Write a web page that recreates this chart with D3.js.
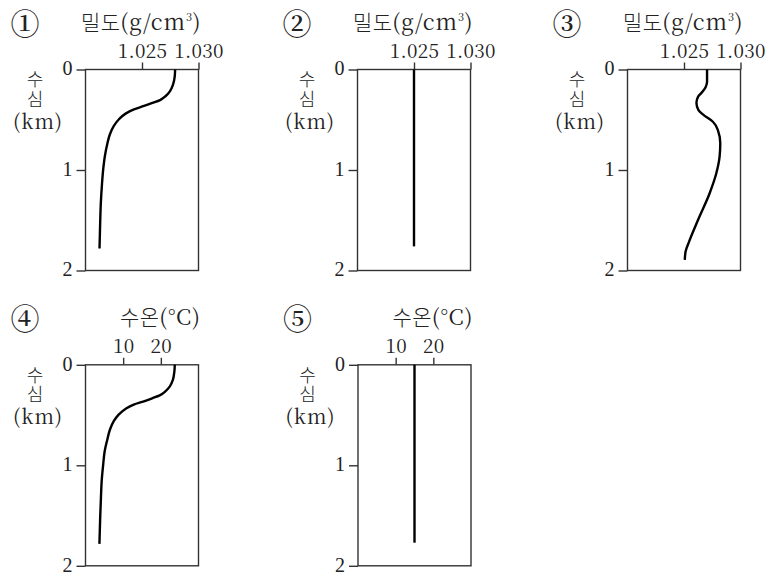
<!DOCTYPE html>
<html>
<head>
<meta charset="utf-8">
<script src="https://cdn.jsdelivr.net/npm/d3@7"></script>
<style>
  html, body { margin: 0; padding: 0; background: #fff; }
  svg { display: block; }
</style>
</head>
<body>
<svg id="chart" width="779" height="575"></svg>
<script>
// ---------- DATA ----------
const panelLabels = ["①", "②", "③", "④", "⑤"];
const depthTicks = [0, 1, 2];
const densityTicks = [1.025, 1.030];
const tempTicks = [10, 20];
const densityDomain = [1.020, 1.030];
const tempDomain = [0, 30];
const depthDomain = [0, 2];

// ① density profile
const depth1 = [0, 0.066, 0.149, 0.215, 0.264, 0.304, 0.333, 0.363, 0.396, 0.439, 0.495, 0.561, 0.644, 0.743, 0.858, 0.990, 1.155, 1.320, 1.518, 1.782];
const density1 = [1.02793, 1.02790, 1.02775, 1.02748, 1.02710, 1.02660, 1.02592, 1.02518, 1.02429, 1.02355, 1.02296, 1.02251, 1.02216, 1.02192, 1.02172, 1.02157, 1.02145, 1.02136, 1.02130, 1.02124];
// ② uniform density
const depth2 = [0, 1.76];
const density2 = [1.025, 1.025];
// ③ wavy density profile
const depth3 = [0, 0.123, 0.173, 0.222, 0.272, 0.331, 0.404, 0.454, 0.520, 0.603, 0.735, 0.868, 1.033, 1.231, 1.497, 1.712, 1.811, 1.894];
const density3 = [1.02704, 1.02704, 1.02692, 1.02663, 1.02624, 1.02610, 1.02628, 1.02675, 1.02756, 1.02800, 1.02821, 1.02815, 1.02786, 1.02727, 1.02624, 1.02545, 1.02514, 1.02507];
// ④ temperature profile
const depth4 = [0, 0.066, 0.149, 0.215, 0.264, 0.304, 0.333, 0.363, 0.396, 0.439, 0.495, 0.561, 0.644, 0.743, 0.858, 0.990, 1.155, 1.320, 1.518, 1.782];
const temp4 = [23.7, 23.6, 23.2, 22.4, 21.2, 19.7, 17.7, 15.5, 12.8, 10.6, 8.8, 7.5, 6.5, 5.8, 5.1, 4.7, 4.3, 4.1, 3.9, 3.7];
// ⑤ uniform temperature
const depth5 = [0, 1.77];
const temp5 = [15, 15];

// ---------- LAYOUT ----------
const svg = d3.select("#chart");
const serif = "'Noto Serif CJK KR', 'Liberation Serif', serif";
const serifY = "'Liberation Serif', 'Noto Serif CJK KR', serif";
const hangul = "'Noto Sans CJK KR', 'Noto Sans', sans-serif";
const W = 113, H = 201;
const ink = "#222";

const panels = [
  {label: panelLabels[0], left: 85.5, top: 69.5, kind: "density", depth: depth1, vals: density1},
  {label: panelLabels[1], left: 357.5, top: 69.5, kind: "density", depth: depth2, vals: density2},
  {label: panelLabels[2], left: 627.5, top: 69.5, kind: "density", depth: depth3, vals: density3},
  {label: panelLabels[3], left: 85.5, top: 364.8, kind: "temp", depth: depth4, vals: temp4},
  {label: panelLabels[4], left: 358, top: 364.8, kind: "temp", depth: depth5, vals: temp5}
];

panels.forEach(p => {
  const g = svg.append("g");
  const isD = p.kind === "density";
  const x = d3.scaleLinear().domain(isD ? densityDomain : tempDomain).range([p.left, p.left + W]);
  const y = d3.scaleLinear().domain(depthDomain).range([p.top, p.top + H]);

  // box
  g.append("rect")
    .attr("x", p.left).attr("y", p.top).attr("width", W).attr("height", H)
    .attr("fill", "none").attr("stroke", "#333").attr("stroke-width", 1.4);

  // left axis
  const ya = g.append("g").attr("transform", `translate(${p.left},0)`)
    .call(d3.axisLeft(y).tickValues(depthTicks).tickSize(9).tickSizeOuter(0).tickPadding(4).tickFormat(d3.format("d")));
  ya.select(".domain").remove();
  ya.selectAll("line").attr("stroke", "#333").attr("stroke-width", 1.4);
  ya.selectAll("text").style("font-family", serifY).style("font-size", "20px").attr("fill", ink).attr("dy", "0.26em");

  // top axis
  const xa = g.append("g").attr("transform", `translate(0,${p.top})`)
    .call(d3.axisTop(x).tickValues(isD ? densityTicks : tempTicks).tickSize(7).tickSizeOuter(0).tickPadding(5)
      .tickFormat(isD ? d3.format(".3f") : d3.format("d")));
  xa.select(".domain").remove();
  xa.selectAll("line").attr("stroke", "#333").attr("stroke-width", 1.4);
  xa.selectAll("text").style("font-family", serif).style("font-size", "19px").style("letter-spacing", "0.3px").attr("fill", ink);

  // curve
  const pts = p.depth.map((d, i) => [p.vals[i], d]);
  const line = d3.line().x(d => x(d[0])).y(d => y(d[1])).curve(d3.curveMonotoneY);
  g.append("path").datum(pts).attr("d", line)
    .attr("fill", "none").attr("stroke", "#000").attr("stroke-width", 2.4).attr("stroke-linecap", "butt");

  // header title
  const t = g.append("text").attr("x", p.left + W + 2).attr("y", p.top - 40)
    .attr("text-anchor", "end").attr("fill", ink);
  if (isD) {
    t.append("tspan").style("font-family", hangul).style("font-weight", 300).style("font-size", "21px").style("letter-spacing", "0.3px").text("밀도");
    t.append("tspan").style("font-family", serif).style("font-size", "22px").style("letter-spacing", "0.9px").text("(g/cm");
    t.append("tspan").style("font-family", serif).style("font-size", "11px").attr("dy", -9).style("letter-spacing", "0.5px").text("3");
    t.append("tspan").style("font-family", serif).style("font-size", "22px").attr("dy", 9).text(")");
  } else {
    t.append("tspan").style("font-family", hangul).style("font-weight", 300).style("font-size", "21px").style("letter-spacing", "0.3px").text("수온");
    t.append("tspan").style("font-family", serif).style("font-size", "22px").style("letter-spacing", "0.6px").text("(°C)");
  }

  // circled panel label
  g.append("text").attr("x", p.left - 60.5).attr("y", p.top - 47)
    .attr("text-anchor", "middle").attr("dominant-baseline", "central")
    .style("font-family", serif).style("font-weight", 600).style("font-size", "29px").attr("fill", ink)
    .text(p.label);

  // vertical y label 수심 (km)
  const cx = p.left - 50.5;
  g.append("text").attr("x", cx).attr("y", p.top + 1)
    .style("writing-mode", "vertical-rl").style("text-orientation", "upright")
    .style("letter-spacing", "1.5px")
    .style("font-family", hangul).style("font-weight", 300).style("font-size", "18px").attr("fill", ink).text("수심");
  g.append("text").attr("x", cx + 3).attr("y", p.top + 59).attr("text-anchor", "middle")
    .style("font-family", serif).style("font-size", "20px").style("letter-spacing", "1px").attr("fill", ink).text("(km)");
});
</script>
</body>
</html>
